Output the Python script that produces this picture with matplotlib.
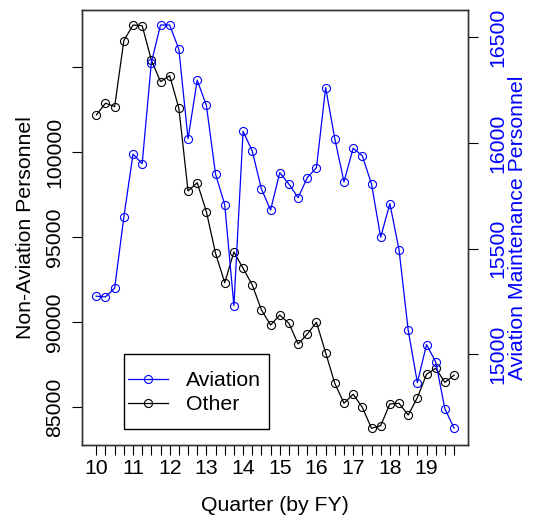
import matplotlib
matplotlib.use("Agg")
import matplotlib.pyplot as plt
from matplotlib.patches import Rectangle
import numpy as np

plt.rcParams['font.family'] = ['Liberation Sans', 'DejaVu Sans']

quarters = [10 + 0.25 * i for i in range(40)]

other = [102180, 102870, 102670, 106550, 107470, 107430, 105410, 104140, 104490, 102570,
         97710, 98190, 96490, 94040, 92310, 94120, 93160, 92180, 90710, 89820,
         90410, 89920, 88710, 89290, 89980, 88190, 86390, 85220, 85750, 84980,
         83750, 83900, 85180, 85220, 84530, 85550, 86920, 87280, 86450, 86870]

aviation = [15275, 15272, 15313, 15649, 15947, 15902, 16380, 16558, 16558, 16443,
            16020, 16297, 16178, 15852, 15708, 15230, 16055, 15962, 15782, 15683,
            15860, 15805, 15741, 15836, 15883, 16262, 16020, 15816, 15975, 15939,
            15806, 15554, 15713, 15495, 15114, 14866, 15046, 14964, 14742, 14651]

left_ticks = [85000, 90000, 95000, 100000, 105000]
left_labels = ['85000', '90000', '95000', '100000', '']
right_ticks = [15000, 15500, 16000, 16500]
year_ticks = list(range(10, 20))

fig = plt.figure(figsize=(5.34, 5.16), dpi=100)
ax = fig.add_axes([82/534, 1 - 445/516, 386/534, 435/516])
ax2 = ax.twinx()

fs = 15.3
lw = 0.9
ms = 5.8

l_other, = ax.plot(quarters, other, color='black', lw=lw, marker='o', ms=ms,
                   mfc='none', mec='black', mew=0.8, label='Other')
l_av, = ax2.plot(quarters, aviation, color='blue', lw=lw, marker='o', ms=ms,
                 mfc='none', mec='blue', mew=0.8, label='Aviation')

ax.set_xlim(9.61, 20.13)
ax.set_ylim(82765, 108353)
ax2.set_ylim(14571, 16629)

ax.set_xticks(year_ticks)
ax.set_xticklabels([str(y) for y in year_ticks], fontsize=fs)
ax.set_xticks(quarters, minor=True)
ax.tick_params(axis='x', which='both', length=7, width=0.8, pad=3, direction='out')

ax.set_yticks(left_ticks)
ax.set_yticklabels(left_labels, fontsize=fs, rotation=90, va='center')
ax.tick_params(axis='y', length=7, width=0.8, pad=6)

ax2.set_yticks(right_ticks)
ax2.set_yticklabels([str(t) for t in right_ticks], fontsize=fs, rotation=90,
                    va='center', color='blue')
ax2.tick_params(axis='y', length=7, width=0.8, pad=8, colors='black', labelcolor='blue')

for a in (ax, ax2):
    for s in a.spines.values():
        s.set_linewidth(1.0)
        s.set_color('#333333')

ax.set_xlabel('Quarter (by FY)', fontsize=fs, labelpad=13)
ax.set_ylabel('Non-Aviation Personnel', fontsize=fs, labelpad=7)
ax2.set_ylabel('Aviation Maintenance Personnel', fontsize=fs, color='blue', labelpad=0)

# legend frame drawn as a box, legend entries placed inside it
ax2.add_patch(Rectangle((0.1088, 0.0368), 0.3756, 0.1724, transform=ax2.transAxes,
                        facecolor='white', edgecolor='black', lw=1.0, zorder=4.5))
leg = ax2.legend(handles=[l_av, l_other], labels=['Aviation', 'Other'],
                 loc='upper left', bbox_to_anchor=(0.1192, 0.1700),
                 fontsize=fs, frameon=False, handlelength=1.88,
                 borderaxespad=0, handletextpad=0.85, borderpad=0, labelspacing=0.25)
leg.set_zorder(5)

fig.savefig('out.png', dpi=100)
